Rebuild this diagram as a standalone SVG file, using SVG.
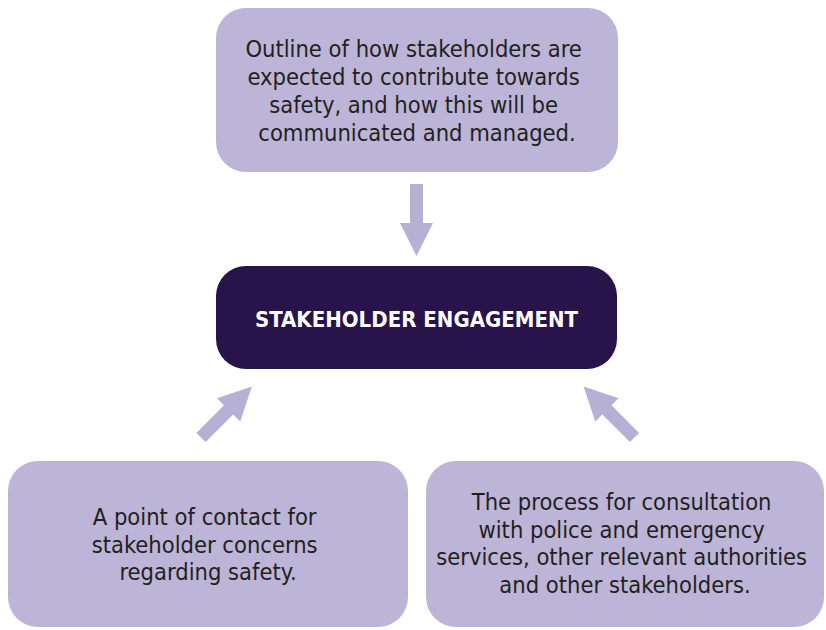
<svg xmlns="http://www.w3.org/2000/svg" xmlns:xlink="http://www.w3.org/1999/xlink" width="826" height="630" viewBox="0 0 826 630">
  <style>
    .box { fill: #bcb5d7; }
    .core { fill: #28134a; }
    .txt { font-family: "DejaVu Sans Condensed", "DejaVu Sans", "Liberation Sans", sans-serif; font-size: 23.5px; fill: #231f20; text-anchor: middle; }
    .title { font-family: "DejaVu Sans Condensed", "DejaVu Sans", "Liberation Sans", sans-serif; font-size: 22px; font-weight: bold; fill: #ffffff; text-anchor: middle; }
    .arrow { fill: #b7b0d5; }
  </style>
  <defs>
    <!-- block arrow pointing along +x, origin at the tail centre -->
    <polygon id="arrow" points="0,-6.5 39,-6.5 39,-16.5 72,0 39,16.5 39,6.5 0,6.5"/>
  </defs>

  <g id="connectors" class="arrow">
    <use xlink:href="#arrow" transform="translate(416.5,184) rotate(90)"/>
    <use xlink:href="#arrow" transform="translate(201,437.5) rotate(-45)"/>
    <use xlink:href="#arrow" transform="translate(634.5,437.5) rotate(-135)"/>
  </g>

  <g id="outline">
    <rect class="box" x="216" y="8" width="402" height="164" rx="30" ry="30"/>
    <text class="txt">
      <tspan x="417" y="57">Outline of how stakeholders are</tspan>
      <tspan x="417" y="85">expected to contribute towards</tspan>
      <tspan x="417" y="113">safety, and how this will be</tspan>
      <tspan x="417" y="141">communicated and managed.</tspan>
    </text>
  </g>

  <g id="engagement">
    <rect class="core" x="216" y="266" width="401" height="103" rx="30" ry="30"/>
    <text class="title" x="416.5" y="327">STAKEHOLDER ENGAGEMENT</text>
  </g>

  <g id="contact">
    <rect class="box" x="8" y="461" width="400" height="166" rx="30" ry="30"/>
    <text class="txt">
      <tspan x="208" y="525">A point of contact for</tspan>
      <tspan x="208" y="553">stakeholder concerns</tspan>
      <tspan x="208" y="580">regarding safety.</tspan>
    </text>
  </g>

  <g id="consultation">
    <rect class="box" x="426" y="461" width="398" height="166" rx="30" ry="30"/>
    <text class="txt">
      <tspan x="625" y="510">The process for consultation</tspan>
      <tspan x="625" y="538">with police and emergency</tspan>
      <tspan x="625" y="565">services, other relevant authorities</tspan>
      <tspan x="625" y="593">and other stakeholders.</tspan>
    </text>
  </g>
</svg>
